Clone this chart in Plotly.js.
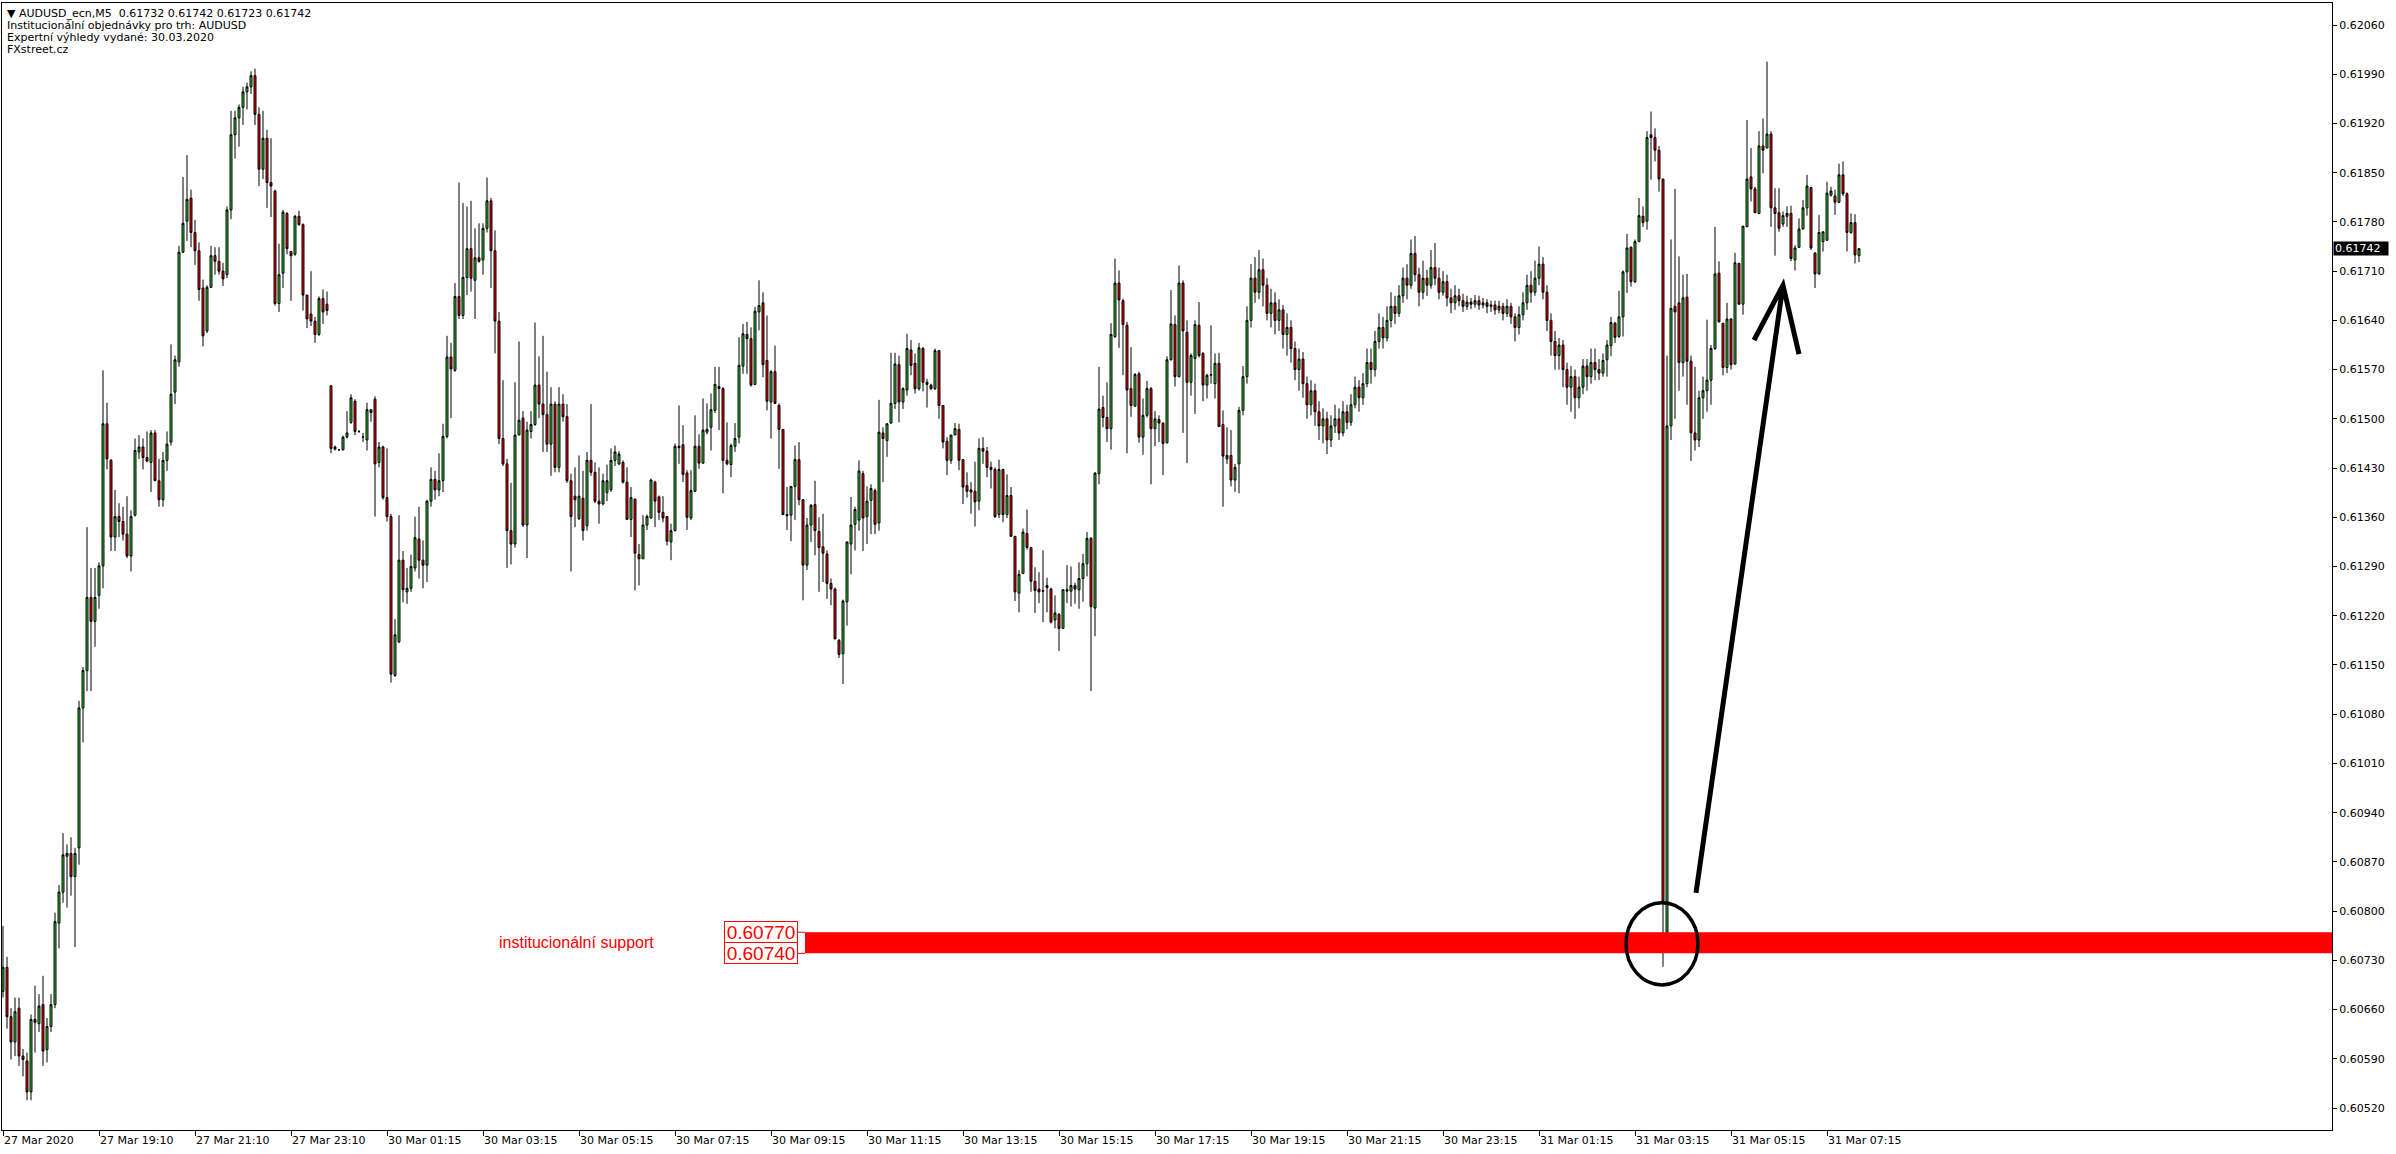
<!DOCTYPE html>
<html><head><meta charset="utf-8">
<script src="https://cdn.plot.ly/plotly-3.0.1.min.js"></script>
<style>html,body{margin:0;padding:0;background:#fff;}#chart{width:2396px;height:1154px;}</style>
</head><body><div id="chart"></div>
<script>
const symbolName = 'AUDUSD_ecn,M5';
const headerLines = ['Institucionální objednávky pro trh: AUDUSD', 'Expertní výhledy vydané: 30.03.2020', 'FXstreet.cz'];
const xTickLabels = ['27 Mar 2020','27 Mar 19:10','27 Mar 21:10','27 Mar 23:10','30 Mar 01:15','30 Mar 03:15','30 Mar 05:15','30 Mar 07:15','30 Mar 09:15','30 Mar 11:15','30 Mar 13:15','30 Mar 15:15','30 Mar 17:15','30 Mar 19:15','30 Mar 21:15','30 Mar 23:15','31 Mar 01:15','31 Mar 03:15','31 Mar 05:15','31 Mar 07:15'];
const xTickBars = [0,24,48,72,96,120,144,168,192,216,240,264,288,312,336,360,384,408,432,456];
const yTickLabels = ['0.62060','0.61990','0.61920','0.61850','0.61780','0.61710','0.61640','0.61570','0.61500','0.61430','0.61360','0.61290','0.61220','0.61150','0.61080','0.61010','0.60940','0.60870','0.60800','0.60730','0.60660','0.60590','0.60520'];
const supportLevels = [0.60770, 0.60740];
const supportText = 'institucionální support';

// prices in points (1 point = 0.00001)
const opens = [
60686,60720,60650,60614,60662,60594,60587,60543,60646,60640,
60667,60603,60636,60667,60783,60827,60878,60882,60849,60890,
61089,61142,61246,61212,61249,61291,61493,61441,61332,61361,
61354,61336,61305,61363,61453,61460,61445,61438,61480,61412,
61385,61441,61467,61538,61581,61737,61781,61814,61765,61739,
61686,61625,61687,61732,61724,61710,61705,61797,61904,61928,
61943,61965,61972,61988,61933,61855,61899,61836,61824,61664,
61707,61792,61738,61734,61788,61776,61676,61649,61639,61620,
61671,61663,61547,61460,61456,61456,61474,61495,61525,61482,
61474,61470,61513,61528,61438,61460,61388,61361,61135,61183,
61299,61254,61259,61288,61329,61299,61292,61383,61414,61399,
61412,61475,61588,61569,61674,61647,61701,61742,61697,61729,
61726,61771,61810,61739,61639,61472,61436,61341,61322,61477,
61501,61349,61482,61492,61548,61521,61506,61464,61521,61431,
61521,61503,61412,61390,61358,61387,61348,61441,61424,61383,
61379,61395,61399,61441,61436,61438,61410,61357,61386,61307,
61301,61349,61359,61410,61389,61367,61361,61325,61341,61461,
61463,61423,61359,61397,61461,61437,61481,61488,61512,61546,
61543,61441,61435,61461,61474,61575,61620,61614,61549,61652,
61665,61583,61524,61567,61519,61485,61364,61363,61404,61442,
61385,61292,61349,61378,61340,61318,61308,61266,61258,61185,
61166,61240,61322,61350,61356,61422,61361,61384,61398,61352,
61480,61469,61494,61522,61577,61524,61541,61598,61579,61543,
61600,61552,61548,61543,61597,61519,61468,61441,61477,61485,
61442,61405,61399,61397,61383,61458,61454,61431,61428,61364,
61428,61364,61391,61333,61252,61280,61337,61317,61269,61258,
61256,61263,61258,61214,61222,61202,61255,61255,61263,61257,
61273,61294,61330,61231,61422,61516,61502,61486,61617,61693,
61668,61633,61543,61518,61564,61474,61505,61543,61486,61499,
61494,61466,61584,61634,61560,61693,61623,61552,61586,61633,
61593,61548,61562,61550,61579,61492,61443,61448,61413,61436,
61512,61560,61640,61700,61680,61712,61690,61650,61665,61640,
61655,61620,61630,61600,61570,61585,61550,61520,61540,61510,
61490,61500,61470,61490,61500,61480,61510,61495,61520,61545,
61530,61550,61580,61570,61610,61630,61615,61640,61660,61650,
61675,61700,61690,61735,61705,61680,61700,61690,61715,61700,
61680,61695,61672,61665,61675,61668,61660,61666,61663,61668,
61662,61665,61660,61662,61655,61660,61650,61660,61645,61630,
61648,61665,61690,61680,61700,61720,61680,61640,61610,61590,
61605,61570,61545,61560,61530,61545,61575,61560,61580,61570,
61565,61584,61604,61636,61617,61645,61709,61744,61695,61752,
61788,61781,61904,61900,61882,61841,60770,61490,61660,61665,
61580,61673,61582,61480,61470,61530,61540,61555,61600,61707,
61636,61573,61642,61578,61721,61663,61773,61844,61827,61792,
61888,61885,61905,61800,61793,61777,61788,61792,61726,61744,
61770,61800,61829,61736,61706,61752,61754,61818,61817,61808,
61847,61820,61765,61779,61732];
const highs = [
60779,60735,60662,60677,60677,60604,60599,60653,60694,60682,
60708,60648,60682,60798,60837,60911,60895,60905,60890,61099,
61147,61346,61288,61288,61296,61569,61523,61443,61399,61380,
61375,61390,61370,61472,61477,61472,61482,61484,61484,61443,
61453,61482,61606,61590,61746,61844,61875,61826,61783,61751,
61698,61690,61746,61744,61744,61722,61802,61938,61938,61947,
61972,61978,61994,61998,61943,61938,61911,61899,61826,61749,
61797,61794,61738,61790,61796,61778,61676,61710,61645,61674,
61684,61681,61548,61462,61457,61476,61511,61535,61528,61484,
61480,61523,61513,61532,61467,61462,61458,61365,61215,61363,
61312,61288,61307,61361,61375,61327,61385,61431,61426,61451,
61493,61618,61608,61693,61836,61807,61802,61810,61771,61778,
61778,61843,61814,61768,61652,61555,61443,61409,61552,61610,
61511,61496,61511,61637,61589,61618,61567,61545,61525,61545,
61535,61521,61422,61431,61448,61426,61453,61521,61438,61431,
61422,61435,61458,61462,61454,61441,61431,61403,61386,61322,
61363,61364,61415,61412,61391,61390,61361,61351,61465,61519,
61491,61427,61427,61505,61478,61529,61522,61536,61574,61574,
61545,61495,61465,61494,61616,61635,61638,61630,61659,61697,
61680,61647,61569,61604,61522,61485,61403,61404,61462,61467,
61386,61359,61379,61412,61360,61365,61313,61273,61260,61187,
61243,61325,61389,61375,61441,61426,61404,61407,61401,61527,
61488,61494,61594,61594,61590,61545,61621,61612,61593,61608,
61602,61557,61550,61600,61598,61519,61474,61477,61494,61493,
61443,61424,61410,61439,61472,61474,61460,61439,61431,61442,
61429,61421,61403,61333,61285,61344,61371,61318,61289,61282,
61313,61274,61260,61249,61224,61258,61292,61290,61267,61296,
61308,61339,61332,61424,61574,61533,61552,61636,61728,61711,
61671,61638,61602,61565,61567,61529,61554,61545,61511,61505,
61495,61589,61683,61647,61718,61697,61640,61593,61640,61666,
61595,61564,61633,61593,61594,61512,61488,61484,61436,61517,
61575,61660,61720,61730,61740,61728,61700,61685,61680,61670,
61662,61650,61640,61610,61600,61595,61560,61555,61550,61525,
61515,61510,61505,61520,61515,61525,61520,61535,61560,61555,
61565,61600,61600,61625,61650,61645,61660,61680,61675,61690,
61715,61720,61755,61760,61715,61725,61712,61740,61750,61715,
61710,61705,61685,61690,61685,61678,61675,61672,61676,61675,
61672,61670,61668,61668,61668,61665,61670,61665,61650,61660,
61680,61705,61710,61725,61745,61730,61690,61650,61625,61615,
61612,61580,61575,61570,61560,61585,61585,61600,61600,61585,
61593,61612,61645,61638,61682,61711,61763,61745,61755,61814,
61802,61909,61937,61913,61888,61841,61590,61755,61827,61731,
61705,61706,61590,61574,61540,61560,61641,61605,61773,61724,
61636,61665,61643,61736,61722,61774,61925,61885,61830,61909,
61927,62008,61909,61828,61828,61795,61802,61803,61747,61785,
61811,61847,61830,61736,61790,61766,61837,61830,61826,61863,
61866,61822,61792,61791,61742];
const lows = [
60677,60633,60589,60594,60580,60565,60531,60531,60599,60628,
60580,60585,60628,60662,60747,60812,60805,60822,60749,60866,
61040,61113,61113,61176,61230,61259,61428,61312,61312,61332,
61327,61302,61283,61361,61443,61428,61438,61396,61412,61375,
61375,61426,61462,61521,61574,61736,61753,61744,61719,61668,
61603,61622,61686,61705,61705,61689,61700,61784,61870,61887,
61918,61940,61962,61918,61831,61841,61800,61787,61661,61652,
61686,61734,61668,61732,61775,61654,61629,61632,61608,61618,
61635,61647,61451,61455,61455,61455,61472,61493,61477,61480,
61467,61455,61496,61361,61431,61385,61354,61125,61133,61181,
61239,61237,61254,61283,61273,61259,61268,61375,61385,61390,
61396,61472,61501,61567,61642,61642,61676,61681,61642,61722,
61705,61765,61686,61593,61464,61433,61288,61293,61317,61477,
61346,61302,61472,61490,61501,61453,61453,61419,61424,61424,
61496,61409,61283,61346,61356,61327,61341,61419,61380,61351,
61377,61383,61396,61433,61434,61408,61357,61332,61256,61263,
61301,61342,61358,61346,61356,61353,61320,61299,61340,61436,
61410,61342,61356,61396,61429,61436,61478,61455,61508,61484,
61394,61434,61417,61453,61465,61564,61564,61546,61548,61626,
61559,61512,61472,61522,61429,61363,61342,61326,61356,61377,
61242,61285,61325,61306,61254,61268,61244,61235,61187,61160,
61123,61206,61279,61313,61341,61312,61322,61336,61336,61341,
61410,61446,61493,61514,61495,61514,61533,61562,61536,61540,
61539,61516,61541,61541,61500,61458,61420,61436,61477,61427,
61379,61388,61365,61347,61370,61436,61417,61401,61359,61359,
61353,61359,61332,61241,61225,61280,61314,61254,61224,61238,
61211,61225,61209,61202,61170,61202,61238,61233,61237,61230,
61240,61276,61113,61191,61407,61488,61467,61456,61615,61601,
61562,61451,61503,61518,61466,61449,61502,61407,61461,61467,
61420,61465,61583,61546,61559,61480,61437,61533,61507,61587,
61525,61529,61550,61529,61489,61375,61436,61404,61396,61394,
61505,61550,61630,61665,61670,61660,61640,61630,61620,61625,
61600,61590,61580,61555,61540,61530,61500,61505,61490,61470,
61465,61450,61460,61480,61470,61475,61485,61490,61515,61510,
61520,61545,61550,61560,61600,61600,61610,61630,61635,61645,
61665,61670,61685,61695,61660,61670,61675,61685,61690,61670,
61675,61660,61650,61655,61660,61652,61655,61656,61658,61655,
61657,61650,61652,61648,61650,61640,61645,61635,61610,61620,
61640,61655,61665,61675,61690,61670,61625,61590,61570,61570,
61545,61520,61510,61500,61515,61535,61540,61550,61555,61555,
61560,61560,61589,61608,61615,61617,61679,61688,61693,61752,
61773,61769,61840,61866,61823,60721,60760,61470,61500,61540,
61560,61520,61440,61455,61460,61500,61510,61520,61598,61637,
61562,61565,61570,61577,61662,61648,61773,61809,61793,61792,
61849,61885,61773,61732,61766,61773,61773,61724,61711,61743,
61769,61789,61740,61686,61705,61738,61753,61816,61790,61807,
61817,61738,61763,61721,61723];
const closes = [
60720,60650,60614,60657,60594,60589,60543,60646,60642,60665,
60601,60636,60667,60785,60827,60880,60882,60849,60882,61089,
61142,61246,61212,61246,61291,61493,61443,61332,61361,61354,
61336,61305,61361,61455,61460,61445,61440,61480,61412,61385,
61441,61464,61535,61584,61737,61778,61812,61765,61739,61684,
61618,61687,61732,61724,61710,61699,61797,61904,61928,61943,
61965,61972,61988,61933,61855,61899,61836,61831,61664,61705,
61794,61742,61732,61788,61776,61676,61642,61639,61620,61671,
61652,61654,61458,61457,61456,61474,61480,61530,61482,61482,
61474,61513,61509,61436,61460,61388,61361,61137,61193,61299,
61257,61259,61290,61331,61299,61292,61383,61414,61399,61412,
61475,61588,61571,61674,61647,61701,61742,61700,61729,61724,
61771,61810,61739,61639,61472,61436,61341,61322,61477,61498,
61349,61484,61492,61548,61521,61506,61464,61521,61431,61521,
61503,61412,61361,61385,61390,61341,61441,61424,61383,61379,
61412,61412,61441,61453,61450,61410,61357,61388,61309,61301,
61349,61361,61413,61383,61367,61359,61326,61341,61461,61459,
61421,61360,61398,61461,61437,61484,61485,61513,61549,61543,
61441,61436,61462,61472,61576,61621,61614,61548,61653,61661,
61577,61525,61567,61522,61485,61364,61362,61404,61442,61385,
61292,61349,61377,61341,61317,61309,61266,61258,61187,61165,
61241,61325,61349,61371,61426,61359,61383,61401,61350,61481,
61472,61493,61522,61578,61524,61543,61600,61576,61543,61601,
61552,61549,61543,61597,61519,61467,61441,61477,61486,61441,
61403,61397,61396,61382,61458,61454,61431,61428,61361,61428,
61364,61391,61333,61254,61279,61339,61317,61269,61256,61254,
61255,61260,61211,61224,61202,61257,61257,61263,61258,61273,
61294,61330,61233,61423,61514,61502,61486,61620,61693,61669,
61634,61541,61519,61563,61474,61505,61543,61486,61500,61494,
61465,61584,61635,61560,61693,61625,61552,61590,61634,61590,
61548,61562,61563,61579,61489,61447,61448,61413,61431,61512,
61560,61640,61700,61680,61712,61690,61650,61665,61640,61655,
61620,61630,61600,61570,61585,61550,61520,61540,61510,61490,
61500,61470,61490,61500,61480,61510,61495,61520,61545,61530,
61550,61580,61570,61610,61630,61615,61640,61660,61650,61675,
61700,61690,61735,61705,61680,61700,61690,61715,61700,61680,
61695,61672,61665,61675,61668,61660,61666,61663,61668,61662,
61665,61660,61662,61655,61660,61650,61660,61645,61630,61648,
61665,61690,61680,61700,61720,61680,61640,61610,61590,61605,
61570,61545,61560,61530,61545,61575,61560,61580,61570,61565,
61583,61605,61637,61616,61645,61709,61743,61695,61752,61789,
61779,61900,61900,61882,61841,60813,61490,61657,61652,61580,
61672,61582,61480,61470,61530,61540,61555,61600,61706,61638,
61573,61642,61577,61722,61663,61774,61841,61827,61793,61888,
61882,61905,61800,61792,61771,61789,61792,61728,61743,61770,
61800,61831,61743,61706,61765,61766,61821,61824,61808,61847,
61820,61765,61779,61733,61742];

const toPrice = v => v / 100000;
const barIndex = closes.map((_, i) => i);
const last = closes.length - 1;
const lastOHLC = [opens[last], highs[last], lows[last], closes[last]].map(v => toPrice(v).toFixed(5));

const candles = {
  type: 'candlestick',
  x: barIndex,
  open: opens.map(toPrice), high: highs.map(toPrice), low: lows.map(toPrice), close: closes.map(toPrice),
  increasing: {line: {color: '#000000', width: 1}, fillcolor: '#32CD32'},
  decreasing: {line: {color: '#000000', width: 1}, fillcolor: '#FF0000'},
  whiskerwidth: 0,
  hoverinfo: 'skip'
};

const tickFont = {family: 'DejaVu Sans, Verdana, sans-serif', size: 11, color: '#000000'};
const annotations = [];
const header = ['\u25BC ' + symbolName + '\u00a0\u00a0' + lastOHLC.join(' ')].concat(headerLines);
header.forEach((t, k) => annotations.push({
  xref: 'paper', yref: 'paper', x: 0, y: 1, xanchor: 'left', yanchor: 'middle',
  xshift: 3, yshift: -10 - 12 * k, text: t, showarrow: false, font: tickFont
}));
supportLevels.forEach(lv => annotations.push({
  xref: 'x', yref: 'y', x: 198.65, y: lv, xanchor: 'right', yanchor: 'middle',
  text: lv.toFixed(5), showarrow: false, width: 72, height: 20, borderpad: 0,
  bordercolor: '#FF0000', borderwidth: 1, bgcolor: '#FFFFFF',
  font: {family: 'Liberation Sans, Arial, sans-serif', size: 19, color: '#FF0000'}
}));
annotations.push({
  xref: 'x', yref: 'y', x: 123.5, y: (supportLevels[0] + supportLevels[1]) / 2,
  xanchor: 'left', yanchor: 'middle', text: supportText, showarrow: false,
  font: {family: 'Liberation Sans, Arial, sans-serif', size: 16, color: '#FF0000'}
});
annotations.push({
  xref: 'paper', yref: 'y', x: 1, y: toPrice(closes[last]), xanchor: 'left', yanchor: 'middle',
  xshift: 1, text: toPrice(closes[last]).toFixed(5), showarrow: false, bgcolor: '#000000',
  width: 52, height: 11, borderpad: 1, align: 'left',
  font: {family: 'DejaVu Sans, Verdana, sans-serif', size: 11, color: '#FFFFFF'}
});

const shapes = [
  {type: 'rect', xref: 'x', yref: 'y', x0: 200.5, x1: 582.25, y0: supportLevels[1], y1: supportLevels[0],
   fillcolor: '#FF0000', line: {width: 0}, layer: 'above'},
  {type: 'line', xref: 'x', yref: 'y', x0: 198.65, x1: 200.5, y0: supportLevels[0], y1: supportLevels[0], line: {color: '#FF0000', width: 1}},
  {type: 'line', xref: 'x', yref: 'y', x0: 198.65, x1: 200.5, y0: supportLevels[1], y1: supportLevels[1], line: {color: '#FF0000', width: 1}},
  {type: 'circle', xref: 'x', yref: 'y', x0: 405.75, x1: 423.75, y0: 0.60695, y1: 0.60812, line: {color: '#000000', width: 3.5}},
  {type: 'path', xref: 'x', yref: 'y', path: 'M 423.25,0.60826 L 445,0.6169 M 437.75,0.61612 L 445,0.6169 L 449,0.61592',
   line: {color: '#000000', width: 5}}
];

const layout = {
  width: 2396, height: 1154,
  margin: {l: 2, r: 64, t: 3, b: 24, pad: 0},
  paper_bgcolor: '#FFFFFF', plot_bgcolor: '#FFFFFF',
  showlegend: false, hovermode: false,
  xaxis: {
    range: [-0.25, 582.25], showgrid: false, zeroline: false, rangeslider: {visible: false},
    tickmode: 'array', tickvals: xTickBars, ticktext: xTickLabels,
    ticks: 'outside', ticklen: 5, tickwidth: 1, tickcolor: '#000000',
    ticklabelposition: 'outside right',
    showline: true, mirror: true, linecolor: '#000000', linewidth: 1,
    tickfont: tickFont, fixedrange: true
  },
  yaxis: {
    side: 'right', range: [0.604888, 0.620913], showgrid: false, zeroline: false,
    tickmode: 'array', tickvals: yTickLabels.map(Number), ticktext: yTickLabels,
    ticks: 'outside', ticklen: 4, tickwidth: 1, tickcolor: '#000000',
    showline: true, mirror: true, linecolor: '#000000', linewidth: 1,
    tickfont: tickFont, fixedrange: true
  },
  annotations: annotations,
  shapes: shapes
};

Plotly.newPlot('chart', [candles], layout, {staticPlot: true, displayModeBar: false});
</script>
</body></html>
